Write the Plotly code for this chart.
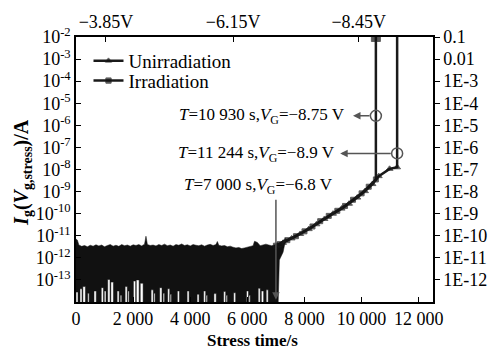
import plotly.graph_objects as go

# ---------------- data ----------------
# noise floor before breakdown: upper envelope, log10(I/A)
noise_t = [0, 50, 100, 200, 300, 400, 500, 600, 700, 800, 900, 1000, 1100, 1200, 1300,
           1400, 1500, 1600, 1700, 1800, 1900, 2000, 2100, 2200, 2300, 2400, 2450, 2500,
           2600, 2700, 2800, 2900, 3000, 3100, 3200, 3300, 3400, 3500, 3600, 3700, 3800,
           3900, 4000, 4100, 4200, 4300, 4400, 4500, 4600, 4700, 4800, 4900, 4950, 5000,
           5100, 5200, 5300, 5400, 5500, 5600, 5700, 5800, 5900, 6000, 6100, 6200, 6250,
           6350, 6450, 6550, 6650, 6750, 6850, 6950, 7050, 7150, 7250, 7350]
noise_top = [-11.15, -11.2, -11.42, -11.48, -11.44, -11.5, -11.43, -11.47, -11.41, -11.46,
             -11.42, -11.5, -11.44, -11.4, -11.47, -11.43, -11.48, -11.4, -11.45, -11.42,
             -11.47, -11.41, -11.44, -11.4, -11.46, -11.38, -11.02, -11.4, -11.44, -11.42,
             -11.46, -11.4, -11.44, -11.38, -11.45, -11.42, -11.47, -11.4, -11.43, -11.37,
             -11.44, -11.41, -11.46, -11.4, -11.43, -11.45, -11.41, -11.47, -11.42, -11.39,
             -11.44, -11.4, -11.26, -11.43, -11.46, -11.44, -11.5, -11.47, -11.52, -11.55,
             -11.53, -11.58, -11.55, -11.52, -11.5, -11.45, -11.25, -11.3, -11.45, -11.4,
             -11.38, -11.42, -11.45, -11.42, -11.38, -11.3, -11.22, -11.12]
# white gaps reaching up from the bottom of the noise band: start, end, top (log10)
gap_start = [0, 140, 240, 410, 630, 885, 990, 1110, 1220, 1440, 1550, 1720, 1815, 2010,
             2110, 2250, 2630, 2725, 2930, 3050, 3210, 3295, 3550, 3890, 4240, 4470, 4555,
             4830, 5170, 5255, 5520, 5970, 6055, 6380, 6490, 6660]
gap_end = [70, 210, 330, 460, 710, 960, 1050, 1190, 1310, 1510, 1600, 1795, 1860, 2090,
           2210, 2350, 2705, 2770, 3010, 3100, 3280, 3340, 3620, 3960, 4310, 4540, 4600,
           4910, 5240, 5300, 5590, 6040, 6100, 6450, 6570, 6730]
gap_top = [-13.55, -13.4, -13.3, -13.6, -13.5, -13.35, -13.5, -12.98, -13.1, -13.5, -13.7,
           -13.3, -13.5, -13.05, -13.0, -13.15, -13.45, -13.6, -13.35, -13.6, -13.4, -13.65,
           -13.5, -13.5, -13.65, -13.5, -13.7, -13.62, -13.52, -13.7, -13.58, -13.5, -13.7,
           -13.38, -13.5, -13.45]

# breakdown curves, log10(I/A)
irr_t = [7000, 7130, 7400, 7700, 8000, 8280, 8550, 8850, 9150, 9420, 9700, 10000, 10250,
         10500, 10500]
irr_log = [-11.45, -11.38, -11.2, -11.02, -10.8, -10.58, -10.34, -10.1, -9.87, -9.65,
           -9.37, -9.08, -8.78, -8.45, -2.0]
unirr_t = [7050, 7250, 7550, 7850, 8150, 8420, 8700, 9000, 9300, 9560, 9850, 10120,
           10380, 10600, 10980, 11244, 11244]
unirr_log = [-11.45, -11.32, -11.12, -10.92, -10.7, -10.48, -10.24, -10.0, -9.77, -9.55,
             -9.27, -8.98, -8.66, -8.3, -7.97, -7.9, -2.0]

# marked events
event_t = [10500, 11244, 7000]
event_log = [-5.57, -7.27, -9.3]
event_text = ["<i>T</i>=10 930 s,<i>V</i><sub>G</sub>=−8.75 V",
              "<i>T</i>=11 244 s,<i>V</i><sub>G</sub>=−8.9 V",
              "<i>T</i>=7 000 s,<i>V</i><sub>G</sub>=−6.8 V"]

x_ticks = [0, 2000, 4000, 6000, 8000, 10000, 12000]
x_ticktext = ["0", "2 000", "4 000", "6 000", "8 000", "10 000", "12 000"]
left_exp = [-13, -12, -11, -10, -9, -8, -7, -6, -5, -4, -3, -2]
right_exp = [-12, -11, -10, -9, -8, -7, -6, -5, -4, -3, -2, -1]
right_text = ["1E-12", "1E-11", "1E-10", "1E-9", "1E-8", "1E-7", "1E-6", "1E-5",
              "1E-4", "1E-3", "0.01", "0.1"]
top_ticks = [1050, 5500, 9900]
top_text = ["−3.85V", "−6.15V", "−8.45V"]

# ---------------- figure ----------------
FONT = "Liberation Serif"
BOTTOM = -14.0

# polygon of the noise band
poly_t = list(noise_t)
poly_y = list(noise_top)
poly_t += [7250, 7120, 7080]
poly_y += [-11.75, -12.1, BOTTOM]
for s, e, tp in reversed(list(zip(gap_start, gap_end, gap_top))):
    poly_t += [e, e, s, s]
    poly_y += [BOTTOM, tp, tp, BOTTOM]
poly_t += [0]
poly_y += [BOTTOM]

fig = go.Figure()
fig.add_trace(go.Scatter(x=poly_t, y=[10 ** v for v in poly_y], mode="lines",
                         fill="toself", fillcolor="#111111",
                         line=dict(color="#111111", width=0.5), showlegend=False,
                         hoverinfo="skip"))

irr_sizes = [5] * (len(irr_t) - 1) + [9]
unirr_sizes = [6] * (len(unirr_t) - 1) + [0]
fig.add_trace(go.Scatter(x=unirr_t, y=[10 ** v for v in unirr_log], mode="lines+markers",
                         name="Unirradiation", legend="legend",
                         line=dict(color="#1a1a1a", width=2.5),
                         marker=dict(symbol="triangle-up", size=unirr_sizes, color="#111111")))
fig.add_trace(go.Scatter(x=irr_t, y=[10 ** v for v in irr_log], mode="lines+markers",
                         name="Irradiation", legend="legend2",
                         line=dict(color="#1a1a1a", width=2.5),
                         marker=dict(symbol="square", size=irr_sizes, color="#111111")))

# open circles at the two breakdown points
fig.add_trace(go.Scatter(x=event_t[:2], y=[10 ** v for v in event_log[:2]], mode="markers",
                         marker=dict(symbol="circle-open", size=11, color="#555555",
                                     line=dict(width=1.5)),
                         showlegend=False, hoverinfo="skip"))

# dummy trace to activate the secondary axes
fig.add_trace(go.Scatter(x=[None], y=[None], xaxis="x2", yaxis="y2", showlegend=False,
                         hoverinfo="skip"))

annotations = []
arrow_style = dict(showarrow=True, arrowhead=2, arrowsize=1, arrowwidth=1.5,
                   arrowcolor="#555555", text="", xref="x", yref="y", axref="x", ayref="y")
annotations.append(dict(x=9700, y=event_log[0], ax=event_t[0] - 170, ay=event_log[0], **arrow_style))
annotations.append(dict(x=9250, y=event_log[1], ax=event_t[1] - 170, ay=event_log[1], **arrow_style))
annotations.append(dict(x=event_t[2], y=-13.9, ax=event_t[2], ay=event_log[2], **arrow_style))

text_pos = [(9500, -5.57), (9130, -7.3), (9080, -8.74)]
for (tx, ty), txt in zip(text_pos, event_text):
    annotations.append(dict(x=tx, y=ty, xref="x", yref="y", text=txt, showarrow=False,
                            xanchor="right", yanchor="middle",
                            font=dict(family=FONT, size=17, color="black")))

# axis titles
annotations.append(dict(x=-0.152, y=0.49, xref="paper", yref="paper",
                        text="<b><i>I</i><sub>g</sub>(<i>V</i><sub>g,stress</sub>)/A</b>",
                        textangle=-90, showarrow=False, xanchor="center", yanchor="middle",
                        font=dict(family=FONT, size=20, color="black")))
annotations.append(dict(x=0.493, y=-0.147, xref="paper", yref="paper",
                        text="<b>Stress time/s</b>", showarrow=False,
                        xanchor="center", yanchor="middle",
                        font=dict(family=FONT, size=17, color="black")))

axis_common = dict(showgrid=False, zeroline=False, showline=True, linecolor="black",
                   linewidth=1.5, tickcolor="black", ticklen=5, tickwidth=1,
                   tickfont=dict(family=FONT, size=18, color="black"))

legend_common = dict(xanchor="left", yanchor="middle", bgcolor="rgba(0,0,0,0)",
                     font=dict(family=FONT, size=19, color="black"), itemwidth=30,
                     borderwidth=0)

fig.update_layout(
    width=499, height=350,
    margin=dict(l=76, r=61, t=33, b=48),
    paper_bgcolor="white", plot_bgcolor="white",
    xaxis=dict(range=[0, 12500], tickvals=x_ticks, ticktext=x_ticktext, ticks="inside",
               ticklabelstandoff=0, **axis_common),
    yaxis=dict(type="log", range=[-14, -2], tickvals=[10 ** e for e in left_exp],
               ticktext=["10<sup>%d</sup>" % e for e in left_exp], ticks="inside",
               **axis_common),
    xaxis2=dict(overlaying="x", side="top", range=[0, 12500], tickvals=top_ticks,
                ticktext=top_text, ticks="inside", anchor="y2", **axis_common),
    yaxis2=dict(overlaying="y", side="right", type="log", range=[-13, -1],
                tickvals=[10 ** e for e in right_exp], ticktext=right_text,
                ticks="outside", anchor="x2", **axis_common),
    legend=dict(x=0.035, y=0.91, **legend_common),
    legend2=dict(x=0.035, y=0.835, **legend_common),
    annotations=annotations,
    showlegend=True,
)

fig.write_html("out.html")
